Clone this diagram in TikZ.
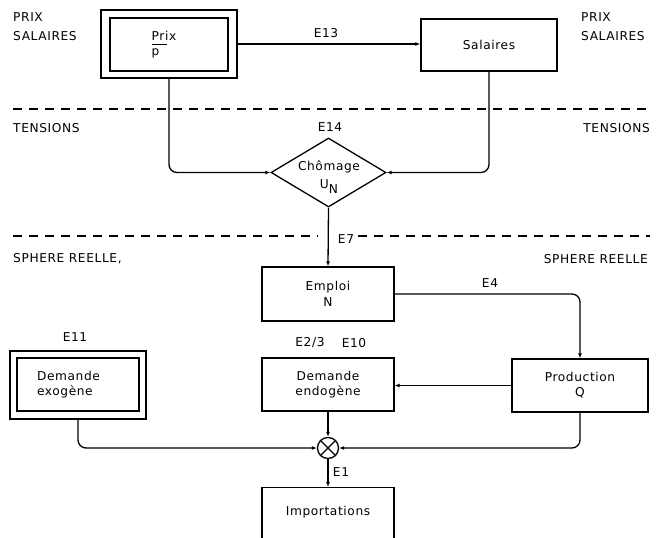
\documentclass[tikz,border=0pt]{standalone}
\usepackage{fontspec}
\setmainfont{DejaVu Sans}[LetterSpace=5]
\usetikzlibrary{arrows.meta,shapes.geometric}
\begin{document}
\begin{tikzpicture}[x=1pt,y=-1pt,
  every node/.style={font=\fontsize{12.2}{15}\selectfont},
  box/.style={draw, line width=1.3pt, inner sep=0pt, align=center},
  dashline/.style={line width=1.2pt, dash pattern=on 9pt off 7pt},
  arr/.style={line width=1.3pt, -{Latex[length=5pt,width=4pt]}},
  rc/.style={rounded corners=8pt},
  lbl/.style={inner sep=0pt}]
\useasboundingbox (0,0) rectangle (664,538);
\clip (0,0) rectangle (664,538);

% side labels
\node[lbl, anchor=west] (l1) at (13,17) {PRIX};
\node[lbl, anchor=west] (l2) at (13,36) {SALAIRES};
\node[lbl, anchor=west] (r1) at (581,17) {PRIX};
\node[lbl, anchor=west] (r2) at (581,36) {SALAIRES};
\node[lbl, anchor=west] (l3) at (13,128) {TENSIONS};
\node[lbl, anchor=east] (r3) at (650,128) {TENSIONS};
\node[lbl, anchor=west] (l4) at (13,259) {SPHERE REELLE,};
\node[lbl, anchor=east] (r4) at (648,259) {SPHERE REELLE};

% dashed separators
\coordinate (d1a) at (13,109); \coordinate (d1b) at (650,109);
\coordinate (d2a) at (13,236); \coordinate (d2b) at (318,236);
\coordinate (d2c) at (358,236); \coordinate (d2d) at (650,236);
\draw[dashline] (d1a) -- (d1b);
\draw[dashline] (d2a) -- (d2b);
\draw[dashline] (d2c) -- (d2d);

% boxes
\node[box, minimum width=136pt, minimum height=68pt] (prixO) at (169,44) {};
\node[box, minimum width=118pt, minimum height=53pt, align=left] (prix) at (169,44.5)
  {Prix\hspace*{10pt}\\[-0.7pt]\rlap{\rule[9.6pt]{15pt}{1.5pt}}p};
\node[box, minimum width=136pt, minimum height=52pt] (sal) at (489,45) {Salaires};
\node[box, diamond, aspect=1.67, minimum width=115pt, minimum height=69pt] (chom) at (328.5,172.5) {};
\node[lbl, align=center] (chomt) at (329,177) {Chômage\\[3pt]U\raisebox{-5pt}{N}};
\node[box, minimum width=132pt, minimum height=54pt, font=\fontsize{12.2}{16}\selectfont] (emploi) at (328,294) {Emploi\\N};
\node[box, minimum width=136pt, minimum height=53pt] (prod) at (580,385.5) {Production\\Q};
\node[box, minimum width=132pt, minimum height=53pt] (endo) at (328,384.5) {Demande\\endogène};
\node[box, minimum width=136pt, minimum height=68pt] (exoO) at (78,385) {};
\node[box, minimum width=122pt, minimum height=53pt, text width=82pt, align=left] (exo) at (78,384.5) {Demande\\exogène};
\node[draw, circle, line width=1.3pt, minimum size=21pt, inner sep=0pt] (sum) at (328,448) {};
\draw[line width=1.3pt] (sum.north west) -- (sum.south east);
\draw[line width=1.3pt] (sum.north east) -- (sum.south west);
\node[box, minimum width=132pt, minimum height=80pt, anchor=north] (impt) at (328,487) {};
\node[lbl] (imptt) at (328,512) {Importations};

% equation labels
\node[lbl] (e13) at (326,33) {E13};
\node[lbl] (e14) at (330,127) {E14};
\node[lbl] (e7) at (346,239) {E7};
\node[lbl] (e4) at (490,283) {E4};
\node[lbl] (e11) at (75,337) {E11};
\node[lbl] (e23) at (310,343) {E2/3};
\node[lbl] (e10) at (354,343) {E10};
\node[lbl] (e1) at (341,472) {E1};

% connectors
\draw[arr] (prixO.east) -- (prixO.east -| sal.west);
\draw[arr, rc] (prixO.south) |- (chom.west);
\draw[arr, rc] (sal.south) |- (chom.east);
\draw[arr] (chom.south) -- (emploi.north);
\draw[arr, rc] (emploi.east) -| (prod.north);
\draw[arr] (prod.west) -- (prod.west -| endo.east);
\draw[arr] (endo.south) -- (sum.north);
\draw[arr, rc] (exoO.south) |- (sum.west);
\draw[arr, rc] (prod.south) |- (sum.east);
\draw[arr] (sum.south) -- (impt.north);
\end{tikzpicture}
\end{document}
